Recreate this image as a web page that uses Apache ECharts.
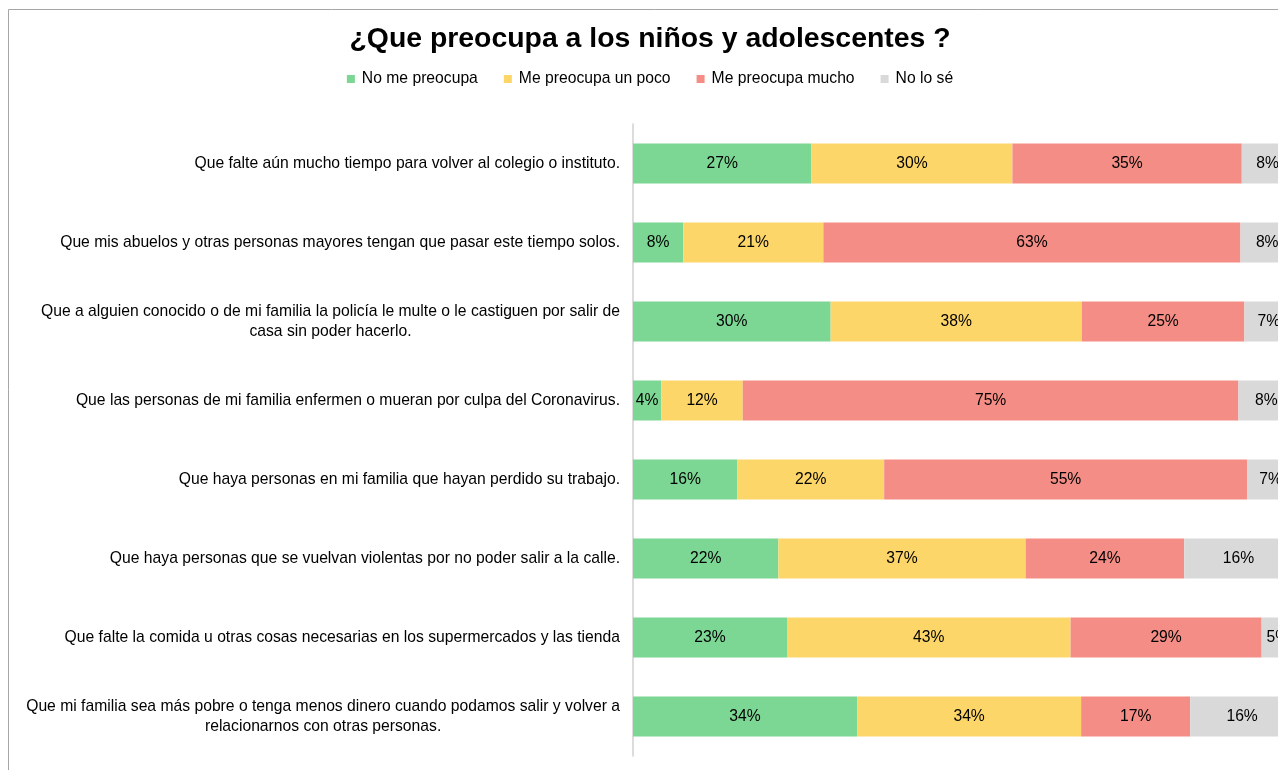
<!DOCTYPE html>
<html>
<head>
<meta charset="utf-8">
<script src="https://cdn.jsdelivr.net/npm/echarts@6/dist/echarts.min.js"></script>
<style>
  html, body { margin: 0; padding: 0; background: #fff; overflow: hidden; }
  /* the original is cropped on the right, so the chart is a little wider than the window */
  #chart { width: 1300px; height: 770px; }
</style>
</head>
<body>
<div id="chart"></div>
<script>
// categories, top to bottom
const categories = [
  'Que falte aún mucho tiempo para volver al colegio o instituto.',
  'Que mis abuelos y otras personas mayores tengan que pasar este tiempo solos.',
  'Que a alguien conocido o de mi familia la policía le multe o le castiguen por salir de\ncasa sin poder hacerlo.',
  'Que las personas de mi familia enfermen o mueran por culpa del Coronavirus.',
  'Que haya personas en mi familia que hayan perdido su trabajo.',
  'Que haya personas que se vuelvan violentas por no poder salir a la calle.',
  'Que falte la comida u otras cosas necesarias en los supermercados y las tienda',
  'Que mi familia sea más pobre o tenga menos dinero cuando podamos salir y volver a\nrelacionarnos con otras personas.'
];
const seriesNames = ['No me preocupa', 'Me preocupa un poco', 'Me preocupa mucho', 'No lo sé'];

// percentages
const noMePreocupa   = [27.0, 7.6, 29.9, 4.3, 15.8, 22.0, 23.3, 33.9];
const unPoco         = [30.4, 21.2, 38.0, 12.3, 22.2, 37.4, 42.9, 33.9];
const mucho          = [34.7, 63.1, 24.6, 75.0, 54.9, 24.0, 28.9, 16.5];
const noLoSe         = [7.8, 8.1, 7.4, 8.4, 7.1, 16.4, 4.9, 15.7];

const colors = ['#7dd794', '#fdd66a', '#f38d85', '#d9d9d9'];
const FONT = '"Liberation Sans", Arial, sans-serif';
const FS = 15.7;

// measure widest line so wrapped labels can be centred like in Excel
const ctx = document.createElement('canvas').getContext('2d');
ctx.font = FS + 'px ' + FONT;
function widest(text) {
  return Math.max(...text.split('\n').map(l => ctx.measureText(l).width));
}

const yData = categories.map(c => {
  if (c.indexOf('\n') < 0) return c;
  const w = widest(c);
  return { value: c, textStyle: { align: 'center', padding: [0, w, 0, 0] } };
});

const chart = echarts.init(document.getElementById('chart'));

const option = {
  backgroundColor: '#fff',
  textStyle: { fontFamily: FONT },
  title: {
    text: '¿Que preocupa a los niños y adolescentes ?',
    left: 'center',
    top: 20,
    textStyle: { fontSize: 28.4, fontWeight: 'bold', color: '#000', fontFamily: FONT }
  },
  legend: {
    top: 66,
    left: 'center',
    itemWidth: 8,
    itemHeight: 8,
    itemGap: 26,
    icon: 'rect',
    textStyle: { fontSize: FS, color: '#000', fontFamily: FONT, padding: [0, 0, 0, 2] },
    data: seriesNames
  },
  graphic: [
    {
      type: 'polyline',
      shape: { points: [[8.5, 770], [8.5, 9.5], [1300, 9.5]] },
      style: { stroke: '#a6a6a6', lineWidth: 1, fill: null },
      silent: true
    }
  ],
  grid: { left: 633, top: 124, width: 661, height: 632 },
  xAxis: {
    type: 'value',
    min: 0,
    max: 100,
    show: false
  },
  yAxis: {
    type: 'category',
    inverse: true,
    data: yData,
    axisTick: { show: false },
    axisLine: { show: true, lineStyle: { color: '#d0d0d0', width: 1.5 } },
    axisLabel: {
      margin: 13,
      fontSize: FS,
      color: '#000',
      lineHeight: 20,
      fontFamily: FONT
    }
  },
  series: [noMePreocupa, unPoco, mucho, noLoSe].map((vals, i) => ({
    name: seriesNames[i],
    type: 'bar',
    stack: 'total',
    barWidth: 40,
    itemStyle: { color: colors[i] },
    label: {
      show: true,
      position: 'inside',
      fontSize: FS,
      color: '#000',
      fontFamily: FONT,
      formatter: p => Math.round(p.value) + '%'
    },
    data: vals
  }))
};

chart.setOption(option);
</script>
</body>
</html>
